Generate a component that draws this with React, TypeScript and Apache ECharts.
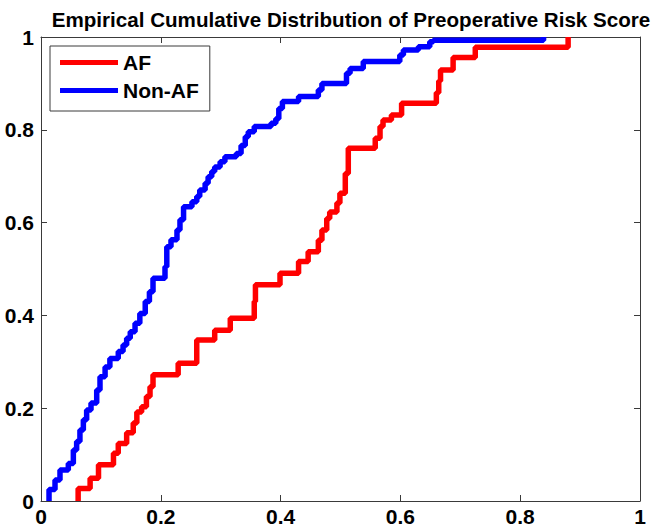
import React, { useEffect, useRef } from "react";
import * as echarts from "echarts";

const titleText = "Empirical Cumulative Distribution of Preoperative Risk Score";
const seriesNames = ["AF", "Non-AF"];

// AF: step positions (score) and cumulative fraction after each step
const afX = [0.062, 0.062, 0.082, 0.096, 0.121, 0.129, 0.143, 0.154, 0.160, 0.168, 0.176, 0.182, 0.187, 0.229, 0.260, 0.290, 0.316, 0.356, 0.358, 0.399, 0.430, 0.446, 0.463, 0.469, 0.477, 0.482, 0.494, 0.499, 0.508, 0.513, 0.558, 0.566, 0.571, 0.585, 0.602, 0.660, 0.664, 0.667, 0.688, 0.725, 0.880];
const afY = [0, 0.027, 0.049, 0.078, 0.103, 0.124, 0.147, 0.168, 0.192, 0.203, 0.225, 0.246, 0.272, 0.297, 0.347, 0.368, 0.394, 0.43, 0.466, 0.491, 0.516, 0.537, 0.562, 0.584, 0.609, 0.623, 0.642, 0.663, 0.706, 0.760, 0.782, 0.807, 0.821, 0.832, 0.857, 0.88, 0.905, 0.929, 0.956, 0.978, 1.0];

// Non-AF
const nonAfX = [0.0134, 0.0134, 0.0234, 0.0317, 0.0456, 0.054, 0.0595, 0.065, 0.0707, 0.0762, 0.0835, 0.093, 0.0985, 0.107, 0.115, 0.129, 0.137, 0.143, 0.149, 0.157, 0.165, 0.174, 0.181, 0.187, 0.207, 0.210, 0.217, 0.227, 0.232, 0.238, 0.252, 0.260, 0.265, 0.274, 0.279, 0.285, 0.290, 0.299, 0.307, 0.326, 0.334, 0.341, 0.346, 0.356, 0.384, 0.392, 0.397, 0.403, 0.430, 0.463, 0.469, 0.510, 0.516, 0.538, 0.599, 0.605, 0.630, 0.649, 0.655, 0.839];
const nonAfY = [0, 0.025, 0.045, 0.067, 0.081, 0.110, 0.128, 0.153, 0.175, 0.196, 0.211, 0.239, 0.268, 0.289, 0.307, 0.322, 0.336, 0.351, 0.365, 0.383, 0.404, 0.430, 0.451, 0.480, 0.505, 0.548, 0.563, 0.584, 0.606, 0.634, 0.645, 0.656, 0.670, 0.685, 0.699, 0.710, 0.720, 0.731, 0.742, 0.749, 0.766, 0.785, 0.796, 0.807, 0.814, 0.824, 0.846, 0.861, 0.872, 0.886, 0.900, 0.922, 0.932, 0.947, 0.961, 0.972, 0.979, 0.990, 0.993, 1.0];

const zip = (xs: number[], ys: number[]) => {
  const n = Math.min(xs.length, ys.length);
  const out: number[][] = [];
  for (let i = 0; i < n; i++) out.push([xs[i], ys[i]]);
  return out;
};

const FONT = "'Liberation Sans', Arial, sans-serif";
const AXIS_COLOR = "#3a3a3a";

export default function App() {
  const ref = useRef<HTMLDivElement>(null);
  useEffect(() => {
    if (!ref.current) return;
    const chart = echarts.init(ref.current, undefined, { renderer: "svg" });
    const labelStyle = { color: "#000", fontWeight: "bold" as const, fontSize: 21, fontFamily: FONT };
    const tickCommon = { inside: true, length: 6, lineStyle: { color: AXIS_COLOR, width: 1 } };
    const fmt = (v: number) => String(Number(v.toFixed(1)));
    chart.setOption({
      animation: false,
      backgroundColor: "#fff",
      title: {
        text: titleText,
        left: 346,
        top: 4,
        textAlign: "center",
        textStyle: { color: "#000", fontWeight: "bold", fontSize: 20.6, fontFamily: FONT },
      },
      legend: {
        data: seriesNames,
        orient: "vertical",
        left: 50,
        top: 46,
        icon: "rect",
        itemWidth: 58,
        itemHeight: 5,
        itemGap: 7,
        itemTextGap: 4,
        padding: [6, 11, 10, 10],
        borderColor: AXIS_COLOR,
        borderWidth: 1,
        backgroundColor: "#fff",
        textStyle: { color: "#000", fontWeight: "bold", fontSize: 21, fontFamily: FONT },
      },
      grid: { left: 41, right: 22, top: 37, bottom: 29, containLabel: false },
      xAxis: [
        {
          type: "value",
          min: 0,
          max: 1,
          interval: 0.2,
          position: "bottom",
          axisLine: { show: true, lineStyle: { color: AXIS_COLOR, width: 1 } },
          axisTick: tickCommon,
          splitLine: { show: false },
          axisLabel: { ...labelStyle, margin: 5, formatter: fmt },
        },
        {
          type: "value",
          min: 0,
          max: 1,
          interval: 0.2,
          position: "top",
          axisLine: { show: true, onZero: false, lineStyle: { color: AXIS_COLOR, width: 1 } },
          axisTick: tickCommon,
          splitLine: { show: false },
          axisLabel: { show: false },
        },
      ],
      yAxis: [
        {
          type: "value",
          min: 0,
          max: 1,
          interval: 0.2,
          position: "left",
          axisLine: { show: true, lineStyle: { color: AXIS_COLOR, width: 1 } },
          axisTick: tickCommon,
          splitLine: { show: false },
          axisLabel: { ...labelStyle, margin: 7, formatter: fmt },
        },
        {
          type: "value",
          min: 0,
          max: 1,
          interval: 0.2,
          position: "right",
          axisLine: { show: true, onZero: false, lineStyle: { color: AXIS_COLOR, width: 1 } },
          axisTick: tickCommon,
          splitLine: { show: false },
          axisLabel: { show: false },
        },
      ],
      series: [
        {
          name: seriesNames[0],
          type: "line",
          step: "end",
          showSymbol: false,
          symbol: "none",
          data: zip(afX, afY),
          color: "#ff0000",
          lineStyle: { color: "#ff0000", width: 5.5 },
          xAxisIndex: 0,
          yAxisIndex: 0,
        },
        {
          name: seriesNames[1],
          type: "line",
          step: "end",
          showSymbol: false,
          symbol: "none",
          data: zip(nonAfX, nonAfY),
          color: "#0000ff",
          lineStyle: { color: "#0000ff", width: 5.5 },
          xAxisIndex: 0,
          yAxisIndex: 0,
        },
      ],
    });
    return () => chart.dispose();
  }, []);
  return (
    <div
      ref={ref}
      style={{ position: "fixed", left: 0, top: 0, width: 662, height: 530, background: "#fff" }}
    />
  );
}
